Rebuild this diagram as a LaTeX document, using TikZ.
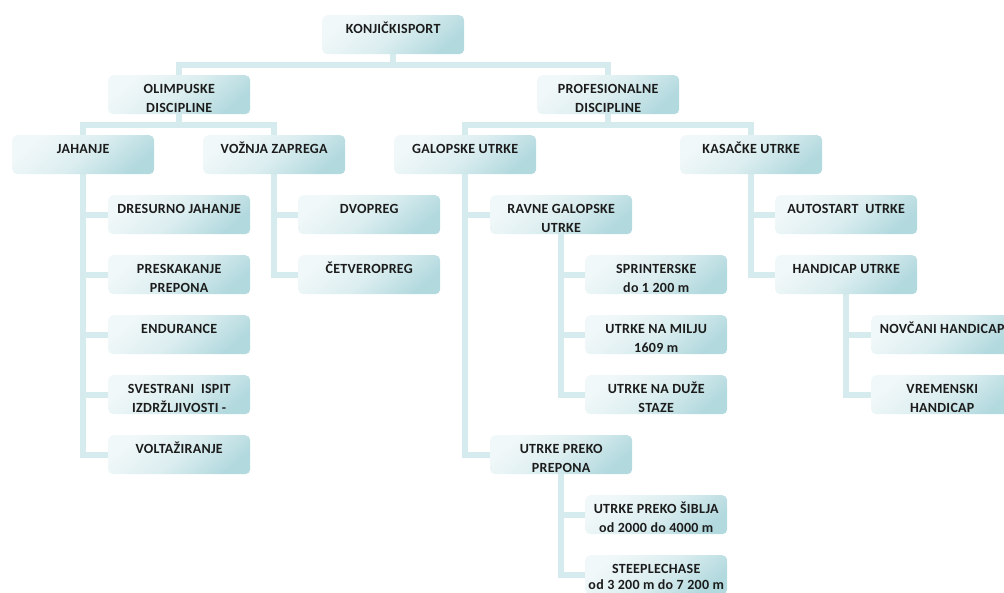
\documentclass[tikz,border=0pt]{standalone}
\usepackage{fontspec}
\setmainfont{Carlito}
\usetikzlibrary{backgrounds}
\definecolor{boxA}{HTML}{F1F8F9}
\definecolor{boxB}{HTML}{DCEEF0}
\definecolor{boxC}{HTML}{B2D9DE}
\definecolor{lnk}{HTML}{D5EBEE}
\definecolor{txt}{HTML}{1C1C1C}
\newcommand{\bx}[1]{\parbox[c][39pt][t]{142pt}{\centering\rule{0pt}{18pt}#1}}
\tikzset{
  box/.style={anchor=north west, rounded corners=5pt, inner sep=0pt,
    minimum width=142pt, minimum height=39pt,
    top color=boxA, bottom color=boxC, middle color=boxB, shading angle=40,
    text=txt, font=\fontsize{14}{19}\selectfont\bfseries\addfontfeatures{LetterSpace=2}},
  link/.style={draw=lnk, line width=6pt},
}
\begin{document}
\begin{tikzpicture}[x=1pt,y=-1pt]
\useasboundingbox (0,0) rectangle (1004,593);
\clip (0,0) rectangle (1004,593);
\node[box] (k) at (322,15) {\bx{KONJIČKISPORT}};
\node[box] (o) at (108,75) {\bx{OLIMPUSKE\\DISCIPLINE}};
\node[box] (p) at (537,75) {\bx{PROFESIONALNE\\DISCIPLINE}};
\node[box] (j) at (12,135) {\bx{JAHANJE}};
\node[box] (v) at (203,135) {\bx{VOŽNJA ZAPREGA}};
\node[box] (g) at (394,135) {\bx{GALOPSKE UTRKE}};
\node[box] (ka) at (680,135) {\bx{KASAČKE UTRKE}};
\node[box] (j1) at (108,195) {\bx{DRESURNO JAHANJE}};
\node[box] (j2) at (108,255) {\bx{PRESKAKANJE\\PREPONA}};
\node[box] (j3) at (108,315) {\bx{ENDURANCE}};
\node[box] (j4) at (108,375) {\bx{SVESTRANI\ \ ISPIT\\IZDRŽLJIVOSTI -}};
\node[box] (j5) at (108,435) {\bx{VOLTAŽIRANJE}};
\node[box] (v1) at (298,195) {\bx{DVOPREG}};
\node[box] (v2) at (298,255) {\bx{ČETVEROPREG}};
\node[box] (g1) at (490,195) {\bx{RAVNE GALOPSKE\\UTRKE}};
\node[box] (g11) at (585,255) {\bx{SPRINTERSKE\\do 1 200 m}};
\node[box] (g12) at (585,315) {\bx{UTRKE NA MILJU\\1609 m}};
\node[box] (g13) at (585,375) {\bx{UTRKE NA DUŽE\\STAZE}};
\node[box] (g2) at (490,435) {\bx{UTRKE PREKO\\PREPONA}};
\node[box] (g21) at (585,495) {\bx{UTRKE PREKO ŠIBLJA\\od 2000 do 4000 m}};
\node[box] (g22) at (585,555) {\bx{STEEPLECHASE\\[-3pt]od 3 200 m do 7 200 m}};
\node[box] (ka1) at (775,195) {\bx{AUTOSTART\ \ UTRKE}};
\node[box] (ka2) at (775,255) {\bx{HANDICAP UTRKE}};
\node[box] (ka21) at (871,315) {\bx{NOVČANI HANDICAP}};
\node[box] (ka22) at (871,375) {\bx{VREMENSKI\\HANDICAP}};
\begin{pgfonlayer}{background}
\draw[link] (k.south) -- ++(0,11) -| (o.north);
\draw[link] (k.south) -- ++(0,11) -| (p.north);
\draw[link] (o.south) -- ++(0,11) -| (j.north);
\draw[link] (o.south) -- ++(0,11) -| (v.north);
\draw[link] (p.south) -- ++(0,11) -| (g.north);
\draw[link] (p.south) -- ++(0,11) -| (ka.north);
\foreach \c in {j1,j2,j3,j4,j5} \draw[link] (j.south) |- (\c.west);
\foreach \c in {v1,v2} \draw[link] (v.south) |- (\c.west);
\foreach \c in {g1,g2} \draw[link] (g.south) |- (\c.west);
\foreach \c in {g11,g12,g13} \draw[link] (g1.south) |- (\c.west);
\foreach \c in {g21,g22} \draw[link] (g2.south) |- (\c.west);
\foreach \c in {ka1,ka2} \draw[link] (ka.south) |- (\c.west);
\foreach \c in {ka21,ka22} \draw[link] (ka2.south) |- (\c.west);
\end{pgfonlayer}
\end{tikzpicture}
\end{document}
